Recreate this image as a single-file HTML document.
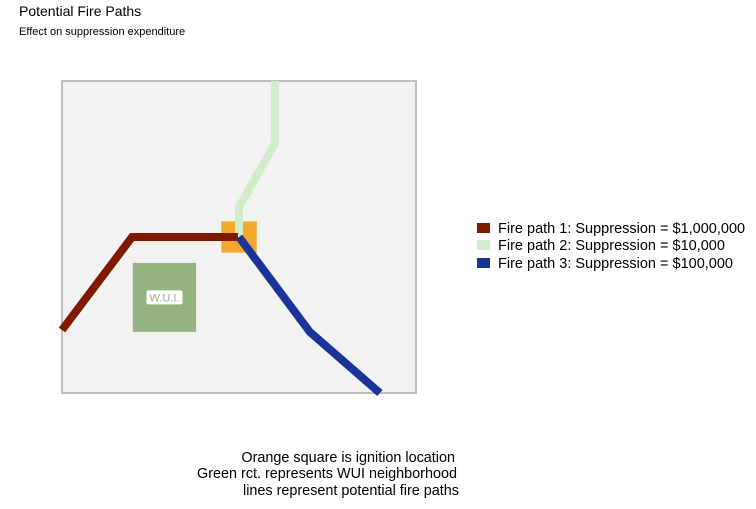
<!DOCTYPE html>
<html><head><meta charset="utf-8"><style>
body{margin:0;background:#fff;font-family:"Liberation Sans",sans-serif}
</style></head><body>
<svg width="756" height="504" xmlns="http://www.w3.org/2000/svg" font-family="Liberation Sans, sans-serif">
<text x="19" y="16" font-size="14" fill="#000">Potential Fire Paths</text>
<text x="19" y="35" font-size="11" fill="#000">Effect on suppression expenditure</text>
<rect x="62" y="81" width="354" height="312" fill="#f2f2f2" stroke="#bebebe" stroke-width="2"/>
<g id="marks"></g>
<g>
<rect x="477" y="223" width="13" height="10" fill="#7f1a00"/>
<text x="498" y="233" font-size="14.5">Fire path 1: Suppression = $1,000,000</text>
<rect x="477" y="240" width="13" height="10" fill="#d2edcc"/>
<text x="498" y="250" font-size="14.5">Fire path 2: Suppression = $10,000</text>
<rect x="477" y="258" width="13" height="10" fill="#1a3399"/>
<text x="498" y="268" font-size="14.5">Fire path 3: Suppression = $100,000</text>
</g>
<g font-size="14.4" text-anchor="end">
<text x="455" y="462">Orange square is ignition location</text>
<text x="457" y="478">Green rct. represents WUI neighborhood</text>
<text x="459" y="495">lines represent potential fire paths</text>
</g>
</svg>
<script>
const path1X=[0,19.8,49.7], path1Y=[20.2,50,50];
const path2X=[50,50,60.2,60.2], path2Y=[50,59.6,80.1,100];
const path3X=[50,70,89.8], path3Y=[50,19.6,0];
const ignition=[50,50,5];
const wui=[20,37.9,19.6,41.7];
const sx=v=>62+v*3.54, sy=v=>393-v*3.12;
const NS="http://www.w3.org/2000/svg", g=document.getElementById('marks');
function mk(t,a){const e=document.createElementNS(NS,t);for(const k in a)e.setAttribute(k,a[k]);g.appendChild(e);return e;}
let w=mk('rect',{x:sx(wui[0]),y:sy(wui[3]),width:sx(wui[1])-sx(wui[0]),height:sy(wui[2])-sy(wui[3]),fill:'#94b380'});


const cx=sx((wui[0]+wui[1])/2), cy=sy((wui[2]+wui[3])/2);
let lb=mk('rect',{x:cx-18,y:cy-7,width:36,height:14,rx:2,fill:'#fff'});


let lt=mk('text',{x:cx,y:cy+4,'font-size':11,'text-anchor':'middle',fill:'#94b380'});lt.textContent='W.U.I.';


let ig=mk('rect',{x:sx(ignition[0]-ignition[2]),y:sy(ignition[1]+ignition[2]),width:sx(ignition[0]+ignition[2])-sx(ignition[0]-ignition[2]),height:sy(ignition[1]-ignition[2])-sy(ignition[1]+ignition[2]),fill:'#f2a82a'});


function line(X,Y,c){return mk('polyline',{points:X.map((x,i)=>sx(x)+','+sy(Y[i])).join(' '),fill:'none',stroke:c,'stroke-width':8});}
let l2=line(path2X,path2Y,'#d2edcc');


let l1=line(path1X,path1Y,'#7f1a00');


let l3=line(path3X,path3Y,'#1a3399');


</script>
</body></html>
